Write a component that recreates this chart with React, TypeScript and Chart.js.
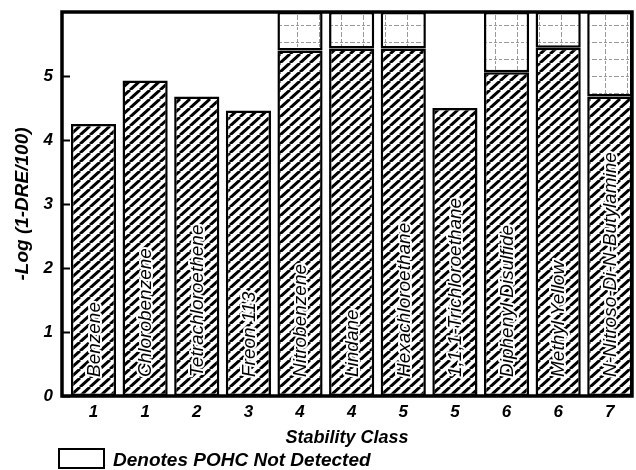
import React, { useEffect, useRef } from 'react';
import { Chart, registerables } from 'chart.js';

Chart.register(...registerables);

const compounds = [
  'Benzene',
  'Chlorobenzene',
  'Tetrachloroethene',
  'Freon 113',
  'Nitrobenzene',
  'Lindane',
  'Hexachloroethane',
  '1,1,1-Trichloroethane',
  'Diphenyl Disulfide',
  'Methyl Yellow',
  'N-Nitroso-Di-N-Butylamine',
];
const stabilityClass = ['1', '1', '2', '3', '4', '4', '5', '5', '6', '6', '7'];
const logDRE = [4.25, 4.93, 4.68, 4.46, 5.4, 5.43, 5.43, 4.5, 5.06, 5.44, 4.68];
const notDetectedTop: (number | null)[] = [null, null, null, null, 6, 6, 6, null, 6, 6, 6];
const yTickValues = [0, 1, 2, 3, 4, 5];
const yMax = 6;

const FONT = '"Liberation Sans", Arial, Helvetica, sans-serif';

function makeHatch(): CanvasPattern | string {
  const c = document.createElement('canvas');
  const w = 10;
  const h = 9;
  c.width = w;
  c.height = h;
  const g = c.getContext('2d');
  if (!g) return '#888';
  g.fillStyle = '#fff';
  g.fillRect(0, 0, w, h);
  g.strokeStyle = '#000';
  g.lineWidth = 3;
  for (const dx of [-w, 0, w]) {
    g.beginPath();
    g.moveTo(dx, h);
    g.lineTo(dx + w, 0);
    g.stroke();
  }
  const p = g.createPattern(c, 'repeat');
  return p || '#888';
}

function makeGrid(): CanvasPattern | string {
  const c = document.createElement('canvas');
  const w = 22;
  const h = 17;
  c.width = w;
  c.height = h;
  const g = c.getContext('2d');
  if (!g) return '#fff';
  g.fillStyle = '#fff';
  g.fillRect(0, 0, w, h);
  g.strokeStyle = '#9a9a9a';
  g.lineWidth = 1;
  g.setLineDash([3, 2]);
  g.beginPath();
  g.moveTo(0, 8.5);
  g.lineTo(w, 8.5);
  g.stroke();
  g.beginPath();
  g.moveTo(11.5, 0);
  g.lineTo(11.5, h);
  g.stroke();
  const p = g.createPattern(c, 'repeat');
  return p || '#fff';
}

const decorPlugin = {
  id: 'decor',
  afterDatasetsDraw(chart: any) {
    const { ctx, chartArea } = chart;
    const meta = chart.getDatasetMeta(0);
    ctx.save();
    // compound names inside the bars
    ctx.font = `italic 19px ${FONT}`;
    ctx.textAlign = 'left';
    ctx.textBaseline = 'middle';
    meta.data.forEach((bar: any, i: number) => {
      ctx.save();
      ctx.translate(bar.x + 1, chartArea.bottom - 19);
      ctx.rotate(-Math.PI / 2);
      ctx.lineJoin = 'round';
      ctx.lineWidth = 4;
      ctx.strokeStyle = '#fff';
      ctx.strokeText(compounds[i], 0, 0);
      ctx.fillStyle = '#000';
      ctx.fillText(compounds[i], 0, 0);
      ctx.restore();
    });
    // inward y tick marks
    const ys = chart.scales.y;
    ctx.strokeStyle = '#000';
    ctx.lineWidth = 2;
    yTickValues.forEach((v) => {
      const py = Math.round(ys.getPixelForValue(v)) + 0.5;
      ctx.beginPath();
      ctx.moveTo(chartArea.left, py);
      ctx.lineTo(chartArea.left + 8, py);
      ctx.stroke();
    });
    // frame
    ctx.lineWidth = 3.5;
    ctx.strokeRect(
      chartArea.left,
      chartArea.top,
      chartArea.right - chartArea.left,
      chartArea.bottom - chartArea.top
    );
    // legend
    ctx.lineWidth = 2;
    ctx.strokeRect(59, 449, 45, 19);
    ctx.fillStyle = '#000';
    ctx.font = `italic bold 19px ${FONT}`;
    ctx.textAlign = 'left';
    ctx.textBaseline = 'middle';
    ctx.fillText('Denotes POHC Not Detected', 113, 461);
    ctx.restore();
  },
};

export default function App() {
  const canvasRef = useRef<HTMLCanvasElement | null>(null);

  useEffect(() => {
    const canvas = canvasRef.current;
    if (!canvas) return;
    const hatch = makeHatch();
    const grid = makeGrid();

    const detectedData = logDRE.map((v, i) => ({ x: i, y: v }));
    const notDetectedData = notDetectedTop
      .map((top, i) => (top === null ? null : { x: i, y: [logDRE[i], top] }))
      .filter((d) => d !== null);

    const chart = new Chart(canvas, {
      type: 'bar',
      data: {
        datasets: [
          {
            label: 'Detected',
            data: detectedData as any,
            backgroundColor: hatch as any,
            borderColor: '#000',
            borderWidth: 2.5,
            borderSkipped: false,
            grouped: false,
            categoryPercentage: 1,
            barPercentage: 0.875,
          },
          {
            label: 'Denotes POHC Not Detected',
            data: notDetectedData as any,
            backgroundColor: grid as any,
            borderColor: '#000',
            borderWidth: 2.5,
            borderSkipped: false,
            grouped: false,
            categoryPercentage: 1,
            barPercentage: 0.875,
          },
        ],
      },
      options: {
        animation: false,
        responsive: true,
        maintainAspectRatio: false,
        layout: { padding: { top: 12, right: 4, bottom: 0, left: 0 } },
        plugins: {
          legend: { display: false },
          tooltip: { enabled: false },
        },
        scales: {
          x: {
            type: 'linear',
            min: -0.61,
            max: 10.43,
            offset: false,
            grid: { display: false, drawTicks: false },
            border: { display: false },
            afterBuildTicks: (s: any) => {
              s.ticks = compounds.map((_, i) => ({ value: i }));
            },
            afterFit: (s: any) => {
              s.height = 74;
              s.paddingLeft = 0;
              s.paddingRight = 0;
            },
            ticks: {
              autoSkip: false,
              maxRotation: 0,
              padding: 6,
              color: '#000',
              font: { family: FONT, size: 17, style: 'italic', weight: 'bold' },
              callback: (v: any) =>
                Number.isInteger(v) && stabilityClass[v] !== undefined ? stabilityClass[v] : '',
            },
            title: {
              display: true,
              text: 'Stability Class',
              color: '#000',
              font: { family: FONT, size: 18, style: 'italic', weight: 'bold' },
              padding: { top: 0, bottom: 21 },
            },
          },
          y: {
            type: 'linear',
            min: 0,
            max: yMax,
            grid: { display: false, drawTicks: false },
            border: { display: false },
            afterBuildTicks: (s: any) => {
              s.ticks = yTickValues.map((v) => ({ value: v }));
            },
            afterFit: (s: any) => {
              s.width = 62;
              s.paddingTop = 0;
              s.paddingBottom = 0;
            },
            ticks: {
              padding: 9,
              color: '#000',
              font: { family: FONT, size: 17, style: 'italic', weight: 'bold' },
              callback: (v: any) => String(v),
            },
            title: {
              display: true,
              text: '-Log (1-DRE/100)',
              color: '#000',
              font: { family: FONT, size: 19, style: 'italic', weight: 'bold' },
              padding: { top: 11, bottom: 0 },
            },
          },
        },
      },
      plugins: [decorPlugin],
    });

    return () => {
      chart.destroy();
    };
  }, []);

  return (
    <div style={{ position: 'absolute', left: 0, top: 0, width: 636, height: 470, background: '#fff' }}>
      <canvas ref={canvasRef} />
    </div>
  );
}
